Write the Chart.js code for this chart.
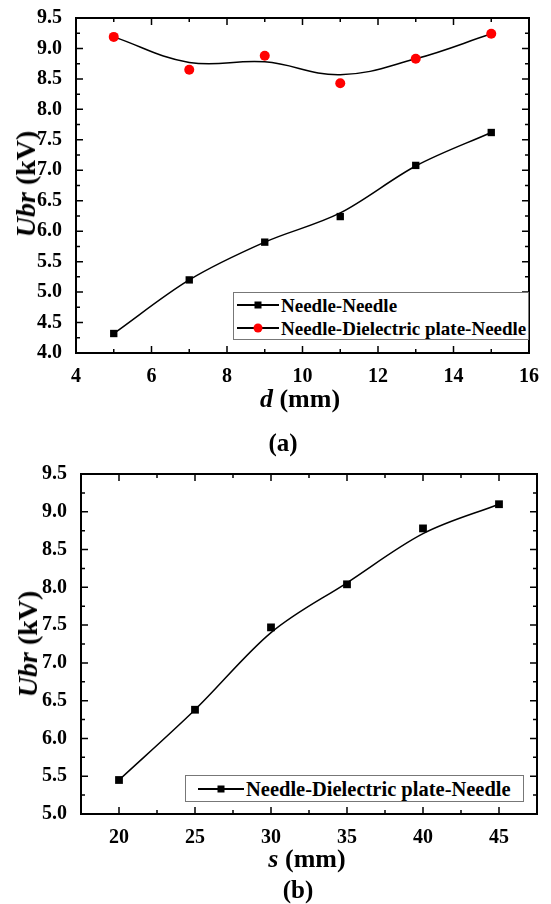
<!DOCTYPE html>
<html>
<head>
<meta charset="utf-8">
<script src="https://cdn.jsdelivr.net/npm/chart.js@4.4.1/dist/chart.umd.min.js"></script>
<style>
body { margin:0; background:#fff; width:551px; height:904px; position:relative; overflow:hidden;
       font-family:'Liberation Serif','Times New Roman',serif; font-weight:bold; color:#000; }
canvas { position:absolute; left:0; }
.t { position:absolute; white-space:nowrap; transform:translate(-50%,-50%); line-height:1; }
.ty { transform:translate(-50%,-50%) rotate(-90deg); }
.leg { position:absolute; border:1px solid #777; box-sizing:border-box; background:#fff; }
.row { position:absolute; left:0; height:0; }
.ln { position:absolute; height:1.5px; background:#000; top:-0.75px; }
.mk { position:absolute; top:0; transform:translate(-50%,-50%); background:#000; }
.lt { position:absolute; top:0; transform:translateY(-50%); white-space:nowrap; line-height:1; }
</style>
</head>
<body>
<canvas id="chartA" width="551" height="400" style="top:0"></canvas>
<canvas id="chartB" width="551" height="420" style="top:440px"></canvas>

<div class="t ty" style="left:26px; top:184px; font-size:28px"><i>Ubr</i> (kV)</div>
<div class="t" style="left:300px; top:399px; font-size:26px"><i>d</i> (mm)</div>
<div class="t" style="left:283px; top:442px; font-size:25px">(a)</div>

<div class="t ty" style="left:28px; top:644px; font-size:28px"><i>Ubr</i> (kV)</div>
<div class="t" style="left:307px; top:859px; font-size:26px"><i>s</i> (mm)</div>
<div class="t" style="left:298px; top:889px; font-size:25px">(b)</div>

<div class="leg" id="legA" style="left:233px; top:292px; width:296px; height:48px"></div>
<div class="leg" id="legB" style="left:185px; top:775px; width:339px; height:27px"></div>

<script>
// (a) breakdown voltage vs gap distance d
var dA = [5, 7, 9, 11, 13, 15];
var needleNeedle = [4.32, 5.20, 5.82, 6.24, 7.08, 7.62];
var needleNeedleFit = [4.32, 5.20, 5.82, 6.30, 7.07, 7.62];
var needleDielectric = [9.19, 8.65, 8.88, 8.43, 8.83, 9.24];
var needleDielectricFit = [9.19, 8.77, 8.78, 8.57, 8.83, 9.24];
var xTicksA = [4, 6, 8, 10, 12, 14, 16];
var yTicksA = [4.0, 4.5, 5.0, 5.5, 6.0, 6.5, 7.0, 7.5, 8.0, 8.5, 9.0, 9.5];
var namesA = ['Needle-Needle', 'Needle-Dielectric plate-Needle'];

// (b) breakdown voltage vs s
var sB = [20, 25, 30, 35, 40, 45];
var dielectricS = [5.45, 6.38, 7.47, 8.04, 8.78, 9.10];
var dielectricSFit = [5.45, 6.38, 7.40, 8.06, 8.71, 9.10];
var xTicksB = [20, 25, 30, 35, 40, 45];
var yTicksB = [5.0, 5.5, 6.0, 6.5, 7.0, 7.5, 8.0, 8.5, 9.0, 9.5];
var namesB = ['Needle-Dielectric plate-Needle'];

Chart.defaults.font.family = "'Liberation Serif', 'Times New Roman', serif";
Chart.defaults.font.weight = 'bold';
Chart.defaults.font.size = 20;
Chart.defaults.color = '#000';

function pts(xs, ys) {
    return xs.map(function(x, i) { return { x: x, y: ys[i] }; });
}

// frame on all four sides with inward major/minor ticks
var frameTicks = {
    id: 'frameTicks',
    afterDraw: function(chart, args, opts) {
        var ctx = chart.ctx, a = chart.chartArea;
        var xs = chart.scales.x, ys = chart.scales.y;
        ctx.save();
        ctx.strokeStyle = '#000';
        ctx.lineWidth = 1.5;
        ctx.beginPath();
        function xTick(v, len) {
            var p = xs.getPixelForValue(v);
            ctx.moveTo(p, a.bottom); ctx.lineTo(p, a.bottom - len);
            ctx.moveTo(p, a.top); ctx.lineTo(p, a.top + len);
        }
        function yTick(v, len) {
            var p = ys.getPixelForValue(v);
            ctx.moveTo(a.left, p); ctx.lineTo(a.left + len, p);
            ctx.moveTo(a.right, p); ctx.lineTo(a.right - len, p);
        }
        xs.ticks.forEach(function(t) { xTick(t.value, 7); });
        ys.ticks.forEach(function(t) { yTick(t.value, 7); });
        var v;
        for (v = xs.min + opts.xMinor; v < xs.max - 1e-6; v += opts.xMinor) {
            if (!xs.ticks.some(function(t) { return Math.abs(t.value - v) < 1e-6; })) xTick(v, 4);
        }
        for (v = ys.min + opts.yMinor; v < ys.max - 1e-6; v += opts.yMinor) {
            if (!ys.ticks.some(function(t) { return Math.abs(t.value - v) < 1e-6; })) yTick(v, 4);
        }
        ctx.stroke();
        ctx.lineWidth = 2;
        ctx.strokeRect(a.left, a.top, a.right - a.left, a.bottom - a.top);
        ctx.restore();
    }
};

function makeOptions(c) {
    return {
        responsive: false,
        animation: false,
        events: [],
        layout: { padding: { top: c.top, right: c.right, left: 0, bottom: 0 } },
        plugins: {
            legend: { display: false },
            tooltip: { enabled: false },
            frameTicks: { xMinor: c.xMinor, yMinor: c.yMinor }
        },
        scales: {
            x: {
                type: 'linear', min: c.xMin, max: c.xMax,
                grid: { display: false }, border: { display: false },
                afterBuildTicks: function(s) { s.ticks = c.xTicks.map(function(v) { return { value: v }; }); },
                afterFit: function(s) { s.height = c.xHeight; },
                ticks: { padding: 4, maxRotation: 0, autoSkip: false }
            },
            y: {
                type: 'linear', min: c.yMin, max: c.yMax,
                grid: { display: false }, border: { display: false },
                afterBuildTicks: function(s) { s.ticks = c.yTicks.map(function(v) { return { value: v }; }); },
                afterFit: function(s) { s.width = c.yWidth; },
                ticks: { padding: 6, autoSkip: false, callback: function(v) { return Number(v).toFixed(1); } }
            }
        }
    };
}

function marks(label, xs, ys, style, color, r) {
    return { label: label, data: pts(xs, ys), showLine: false, pointStyle: style,
             pointRadius: r, pointBackgroundColor: color, pointBorderColor: color,
             pointBorderWidth: 0, order: 0 };
}
function fit(xs, ys, mode) {
    var d = { data: pts(xs, ys), showLine: true, pointRadius: 0, borderColor: '#000',
              borderWidth: 1.5, tension: 0.4, fill: false, order: 1 };
    if (mode) d.cubicInterpolationMode = mode;
    return d;
}

new Chart(document.getElementById('chartA').getContext('2d'), {
    type: 'line',
    data: {
        datasets: [
            fit(dA, needleNeedleFit, 'monotone'),
            fit(dA, needleDielectricFit),
            marks(namesA[0], dA, needleNeedle, 'rect', '#000', 5.2),
            marks(namesA[1], dA, needleDielectric, 'circle', '#ff0000', 5)
        ]
    },
    options: makeOptions({ top: 15, right: 22, xHeight: 47, yWidth: 76,
        xMin: 4, xMax: 16, yMin: 4, yMax: 9.5, xTicks: xTicksA, yTicks: yTicksA,
        xMinor: 1, yMinor: 0.25 }),
    plugins: [frameTicks]
});

new Chart(document.getElementById('chartB').getContext('2d'), {
    type: 'line',
    data: {
        datasets: [
            fit(sB, dielectricSFit, 'monotone'),
            marks(namesB[0], sB, dielectricS, 'rect', '#000', 5.5)
        ]
    },
    options: makeOptions({ top: 34, right: 14, xHeight: 46, yWidth: 81,
        xMin: 17.5, xMax: 47.5, yMin: 5, yMax: 9.5, xTicks: xTicksB, yTicks: yTicksB,
        xMinor: 2.5, yMinor: 0.25 }),
    plugins: [frameTicks]
});

// legends drawn as html boxes inside the plots
function legend(id, names, styles, rows, lineL, lineW, fontSize) {
    var box = document.getElementById(id);
    names.forEach(function(n, i) {
        var row = document.createElement('div');
        row.className = 'row';
        row.style.top = rows[i] + 'px';
        var ln = document.createElement('div');
        ln.className = 'ln';
        ln.style.left = lineL + 'px';
        ln.style.width = lineW + 'px';
        var mk = document.createElement('div');
        mk.className = 'mk';
        mk.style.left = (lineL + lineW / 2) + 'px';
        mk.style.width = styles[i].size + 'px';
        mk.style.height = styles[i].size + 'px';
        mk.style.background = styles[i].color;
        if (styles[i].round) mk.style.borderRadius = '50%';
        var tx = document.createElement('div');
        tx.className = 'lt';
        tx.style.left = (lineL + lineW + 2) + 'px';
        tx.style.fontSize = fontSize + 'px';
        tx.textContent = n;
        row.appendChild(ln); row.appendChild(mk); row.appendChild(tx);
        box.appendChild(row);
    });
}
legend('legA', namesA, [{ color: '#000', size: 7 }, { color: '#ff0000', size: 9, round: true }],
       [12, 35], 3, 42, 19);
legend('legB', namesB, [{ color: '#000', size: 7 }], [13], 12, 46, 20.5);
</script>
</body>
</html>
